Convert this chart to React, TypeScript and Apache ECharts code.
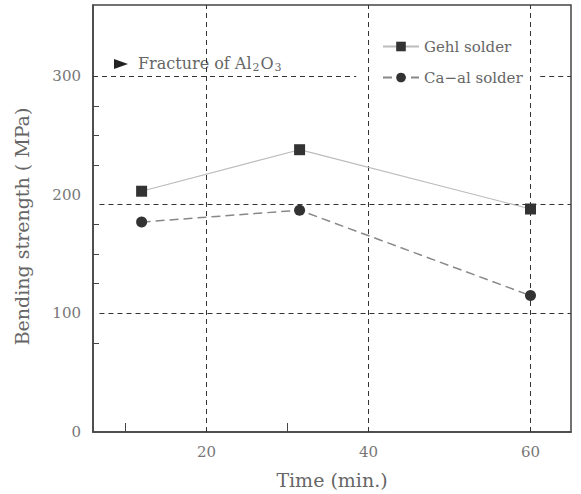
import React, { useEffect, useRef } from "react";
import * as echarts from "echarts";

const times = [12, 31.5, 60];
const gehlSolder = [203, 238, 188];
const caAlSolder = [177, 187, 115];
const xLabelValues = [20, 40, 60];
const xMinorTicks = [10, 30];
const yLabelValues = [0, 100, 200, 300];
const yMinorTicks = [75, 125, 150, 175, 225, 250, 275];
const vGridLines = [20, 40, 60];
const hGridLines = [192, 100];
const fractureLevel = 300;

const FONT = "'DejaVu Serif', 'Liberation Serif', serif";

export default function App() {
  const ref = useRef<HTMLDivElement>(null);
  useEffect(() => {
    if (!ref.current) return;
    const chart = echarts.init(ref.current, null, { renderer: "svg" });
    const dash = { type: [5, 4] as any, color: "#333", width: 1 };
    const markData: any[] = [];
    vGridLines.forEach((v) =>
      markData.push([{ coord: [v, 0] }, { coord: [v, 360] }])
    );
    hGridLines.forEach((h) =>
      markData.push([{ coord: [6.8, h] }, { coord: [65, h] }])
    );
    markData.push([{ coord: [6, fractureLevel] }, { coord: [38.5, fractureLevel] }]);
    markData.push([{ coord: [61.2, fractureLevel] }, { coord: [65, fractureLevel] }]);

    chart.setOption({
      animation: false,
      grid: {
        left: 93,
        right: 10,
        top: 5,
        bottom: 62,
        show: true,
        borderColor: "#444",
        borderWidth: 1.5,
        outerBoundsMode: "none",
        containLabel: false,
      },
      legend: {
        orient: "vertical",
        left: 377,
        top: 34,
        itemWidth: 36,
        itemHeight: 12,
        itemGap: 16,
        textStyle: { fontFamily: FONT, fontSize: 15, color: "#666" },
        data: ["Gehl solder", "Ca\u2212al solder"],
      },
      xAxis: {
        type: "value",
        min: 6,
        max: 65,
        name: "Time (min.)",
        nameLocation: "middle",
        nameGap: 38,
        nameTextStyle: { fontFamily: FONT, fontSize: 19, color: "#666" },
        axisLine: { lineStyle: { color: "#444", width: 1.5 } },
        axisTick: {
          show: true,
          inside: true,
          length: 9,
          customValues: xMinorTicks,
          lineStyle: { color: "#444" },
        },
        axisLabel: {
          customValues: xLabelValues,
          fontFamily: FONT,
          fontSize: 15,
          color: "#777",
          margin: 12,
        },
        splitLine: { show: false },
      },
      yAxis: {
        type: "value",
        min: 0,
        max: 360,
        name: "Bending strength ( MPa)",
        nameLocation: "middle",
        nameGap: 62,
        nameTextStyle: { fontFamily: FONT, fontSize: 19, color: "#666", padding: [0, 16, 0, 0] },
        axisLine: { show: true, lineStyle: { color: "#444", width: 1.5 } },
        axisTick: {
          show: true,
          inside: true,
          length: 6,
          customValues: yMinorTicks,
          lineStyle: { color: "#444" },
        },
        axisLabel: {
          customValues: yLabelValues,
          fontFamily: FONT,
          fontSize: 15,
          color: "#777",
          margin: 12,
        },
        splitLine: { show: false },
      },
      graphic: [
        {
          type: "polygon",
          shape: { points: [[114, 59], [114, 69], [128, 64]] },
          style: { fill: "#222" },
        },
        {
          type: "text",
          left: 138,
          top: 55,
          style: {
            text: "{a|Fracture of Al}{s|2}{a|O}{s|3}",
            rich: {
              a: { fontFamily: FONT, fontSize: 16, fill: "#666" },
              s: { fontFamily: FONT, fontSize: 11, fill: "#666", padding: [8, 1, 0, 1] },
            },
          },
        },
      ],
      series: [
        {
          name: "Gehl solder",
          type: "line",
          data: times.map((t, i) => [t, gehlSolder[i]]),
          symbol: "rect",
          symbolSize: 11,
          itemStyle: { color: "#333" },
          lineStyle: { color: "#bbb", width: 1.2 },
          z: 5,
          markLine: {
            silent: true,
            symbol: "none",
            label: { show: false },
            lineStyle: dash,
            data: markData,
            z: 1,
          },
        },
        {
          name: "Ca\u2212al solder",
          type: "line",
          data: times.map((t, i) => [t, caAlSolder[i]]),
          symbol: "circle",
          symbolSize: 11,
          itemStyle: { color: "#333" },
          lineStyle: { color: "#888", width: 1.5, type: [9, 5] },
          z: 5,
        },
      ],
    });
    return () => chart.dispose();
  }, []);
  return <div ref={ref} style={{ width: 581, height: 494, position: "absolute", left: 0, top: 0 }} />;
}
